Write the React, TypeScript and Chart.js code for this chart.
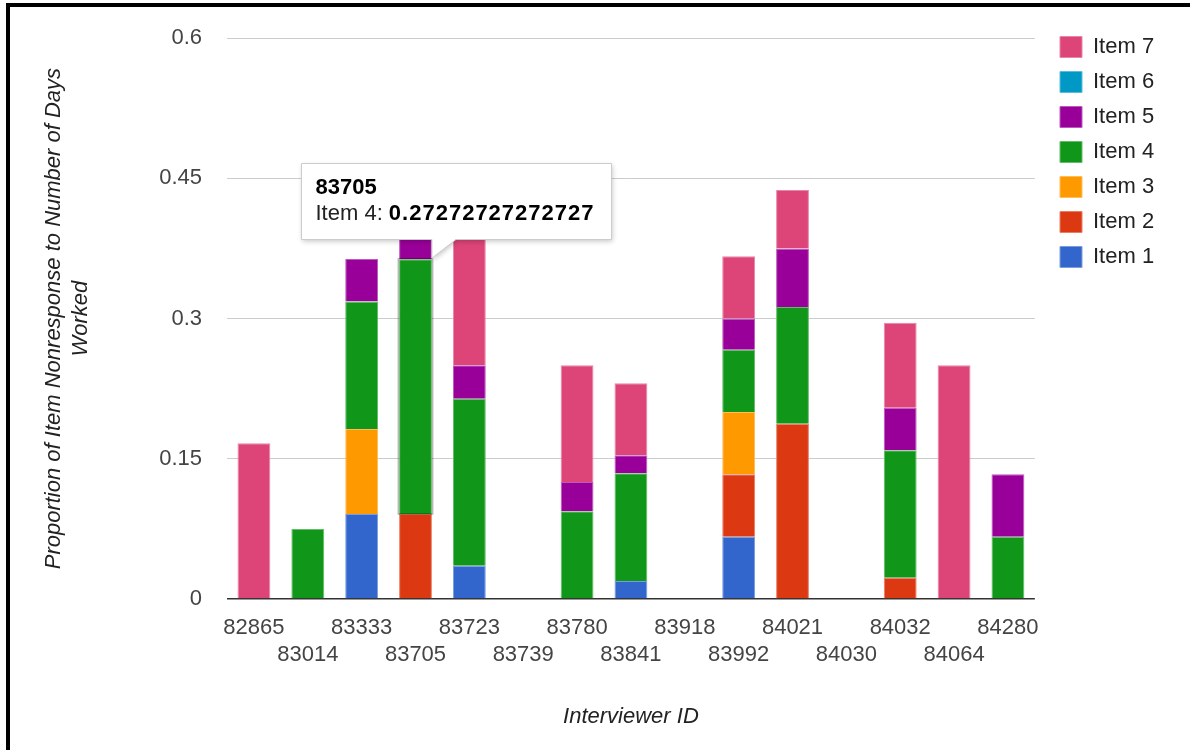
import React, { useEffect, useRef } from 'react';
import { Chart, registerables } from 'chart.js';

Chart.register(...registerables);

// ---------- data ----------
const categories = [
  '82865', '83014', '83333', '83705', '83723', '83739', '83780', '83841',
  '83918', '83992', '84021', '84030', '84032', '84064', '84280',
];
const seriesNames = ['Item 1', 'Item 2', 'Item 3', 'Item 4', 'Item 5', 'Item 6', 'Item 7'];

const item1 = [null, null, 0.0909, null, 0.0357, null, null, 0.0192, null, 0.0667, null, null, null, null, null];
const item2 = [null, null, null, 0.0909, null, null, null, null, null, 0.0667, 0.1875, null, 0.0227, null, null];
const item3 = [null, null, 0.0909, null, null, null, null, null, null, 0.0667, null, null, null, null, null];
const item4 = [null, 0.075, 0.1364, 0.27272727272727, 0.1786, null, 0.0938, 0.1154, null, 0.0667, 0.125, null, 0.1364, null, 0.0667];
const item5 = [null, null, 0.0455, 0.0455, 0.0357, null, 0.0313, 0.0192, null, 0.0333, 0.0625, null, 0.0455, null, 0.0667];
const item6 = [null, null, null, null, null, null, null, null, null, null, null, null, null, null, null];
const item7 = [0.1667, null, null, null, 0.1429, null, 0.125, 0.0769, null, 0.0667, 0.0625, null, 0.0909, 0.25, null];

const seriesValues = [item1, item2, item3, item4, item5, item6, item7];
const seriesColors = ['#3366cc', '#dc3912', '#ff9900', '#109618', '#990099', '#0099c6', '#dd4477'];
const seriesBorders = ['#7a9cde', '#e87e65', '#ffbd59', '#64bb69', '#bd59bd', '#59bdda', '#e985a7'];

const yTicks = [0, 0.15, 0.3, 0.45, 0.6];
const yTitle = ['Proportion of Item Nonresponse to Number of Days', 'Worked'];
const xTitle = 'Interviewer ID';

// tooltip shown in the reference
const tipSeries = 3;
const tipCategory = 3;

const FONT = '"Liberation Sans", Arial, sans-serif';

const tooltipPlugin = {
  id: 'fixedTooltip',
  afterLayout(chart: any) {
    const lg = chart.legend;
    if (lg) {
      const w = lg.width;
      const h = lg.height;
      lg.left = 1047;
      lg.right = 1047 + w;
      lg.top = 23;
      lg.bottom = 23 + h;
    }
  },
  afterDraw(chart: any) {
    const meta = chart.getDatasetMeta(tipSeries);
    const el = meta.data[tipCategory];
    if (!el) return;
    const { x, y, width, base } = el.getProps(['x', 'y', 'width', 'base'], true);
    const ctx = chart.ctx;
    ctx.save();
    // highlight of hovered bar
    ctx.strokeStyle = 'rgba(0,0,0,0.28)';
    ctx.lineWidth = 1.5;
    ctx.strokeRect(x - width / 2 - 0.75, y - 0.5, width + 1.5, base - y + 0.5);

    const title = String(chart.data.labels[tipCategory]);
    const label = chart.data.datasets[tipSeries].label + ': ';
    const value = Number(chart.data.datasets[tipSeries].data[tipCategory]).toFixed(14);
    ctx.font = 'bold 22px ' + FONT;
    (ctx as any).letterSpacing = '1px';
    const valueW = ctx.measureText(value).width;
    (ctx as any).letterSpacing = '0px';
    ctx.font = '22px ' + FONT;
    const labelW = ctx.measureText(label).width;
    const padX = 14;
    const ax = x + width / 2;
    const ay = y;
    const left = Math.round(ax - 131) + 0.5;
    const bottom = Math.round(ay - 20) + 0.5;
    const top = bottom - 76;
    const right = left + labelW + valueW + padX + 17;

    ctx.beginPath();
    ctx.moveTo(left, top);
    ctx.lineTo(right, top);
    ctx.lineTo(right, bottom);
    ctx.lineTo(ax + 24, bottom);
    ctx.lineTo(ax, ay - 1);
    ctx.lineTo(ax, bottom);
    ctx.lineTo(left, bottom);
    ctx.closePath();
    ctx.shadowColor = 'rgba(0,0,0,0.22)';
    ctx.shadowBlur = 5;
    ctx.shadowOffsetX = 1;
    ctx.shadowOffsetY = 2;
    ctx.fillStyle = '#ffffff';
    ctx.fill();
    ctx.shadowColor = 'transparent';
    ctx.strokeStyle = '#cccccc';
    ctx.lineWidth = 1;
    ctx.stroke();

    ctx.textBaseline = 'middle';
    ctx.textAlign = 'left';
    ctx.fillStyle = '#000000';
    ctx.font = 'bold 22px ' + FONT;
    ctx.fillText(title, left + padX, top + 24);
    ctx.font = '22px ' + FONT;
    ctx.fillStyle = '#222222';
    ctx.fillText(label, left + padX, top + 50);
    ctx.font = 'bold 22px ' + FONT;
    (ctx as any).letterSpacing = '1px';
    ctx.fillStyle = '#000000';
    ctx.fillText(value, left + padX + labelW, top + 50);
    (ctx as any).letterSpacing = '0px';
    ctx.restore();
  },
};

export default function App() {
  const canvasRef = useRef<HTMLCanvasElement | null>(null);

  useEffect(() => {
    if (!canvasRef.current) return;
    const chart = new Chart(canvasRef.current, {
      type: 'bar',
      data: {
        labels: categories,
        datasets: seriesNames.map((name, i) => ({
          label: name,
          data: seriesValues[i] as any,
          backgroundColor: seriesColors[i],
          borderColor: seriesBorders[i],
          borderWidth: 1,
          barPercentage: 0.61,
          categoryPercentage: 1,
        })),
      },
      options: {
        animation: false,
        responsive: true,
        maintainAspectRatio: false,
        layout: { padding: { top: 38, right: 38, bottom: 0, left: 0 } },
        plugins: {
          tooltip: { enabled: false },
          legend: {
            position: 'right',
            align: 'start',
            reverse: true,
            labels: {
              boxWidth: 22,
              boxHeight: 21,
              padding: 13,
              color: '#222222',
              font: { family: FONT, size: 22 },
            },
          },
        },
        scales: {
          x: {
            stacked: true,
            grid: { display: false },
            border: { display: false },
            afterFit: (scale: any) => {
              scale.height = 151;
            },
            ticks: {
              autoSkip: false,
              maxRotation: 0,
              minRotation: 0,
              padding: 7,
              color: '#444444',
              font: { family: FONT, size: 22, lineHeight: 27 / 22 },
              callback: (_v: any, idx: number) =>
                idx % 2 === 0 ? [categories[idx]] : ['', categories[idx]],
            },
            title: {
              display: true,
              text: xTitle,
              color: '#222222',
              font: { family: FONT, size: 22, style: 'italic' },
              padding: { top: 0, bottom: 20 },
            },
          },
          y: {
            stacked: true,
            min: 0,
            max: 0.6,
            afterBuildTicks: (scale: any) => {
              scale.ticks = yTicks.map((v) => ({ value: v }));
            },
            afterFit: (scale: any) => {
              scale.width = 227;
            },
            border: { display: false },
            grid: {
              drawTicks: false,
              color: (c: any) => (c.tick && c.tick.value === 0 ? '#333333' : '#cccccc'),
              lineWidth: (c: any) => (c.tick && c.tick.value === 0 ? 1.5 : 1),
            },
            ticks: {
              padding: 25,
              color: '#444444',
              font: { family: FONT, size: 22 },
              callback: (v: any) => String(v),
            },
            title: {
              display: true,
              text: yTitle,
              color: '#222222',
              font: { family: FONT, size: 22, style: 'italic', lineHeight: 27 / 22 },
              padding: { top: 40, bottom: 0 },
            },
          },
        },
      },
      plugins: [tooltipPlugin],
    } as any);
    return () => chart.destroy();
  }, []);

  return (
    <div style={{ position: 'absolute', left: 0, top: 0, width: 1190, height: 750, background: '#ffffff', overflow: 'hidden' }}>
      <canvas ref={canvasRef} />
      <div
        style={{
          position: 'absolute',
          left: 6,
          top: 3,
          width: 1184,
          height: 747,
          boxSizing: 'border-box',
          borderLeft: '4px solid #000',
          borderTop: '4px solid #000',
          pointerEvents: 'none',
        }}
      />
    </div>
  );
}
